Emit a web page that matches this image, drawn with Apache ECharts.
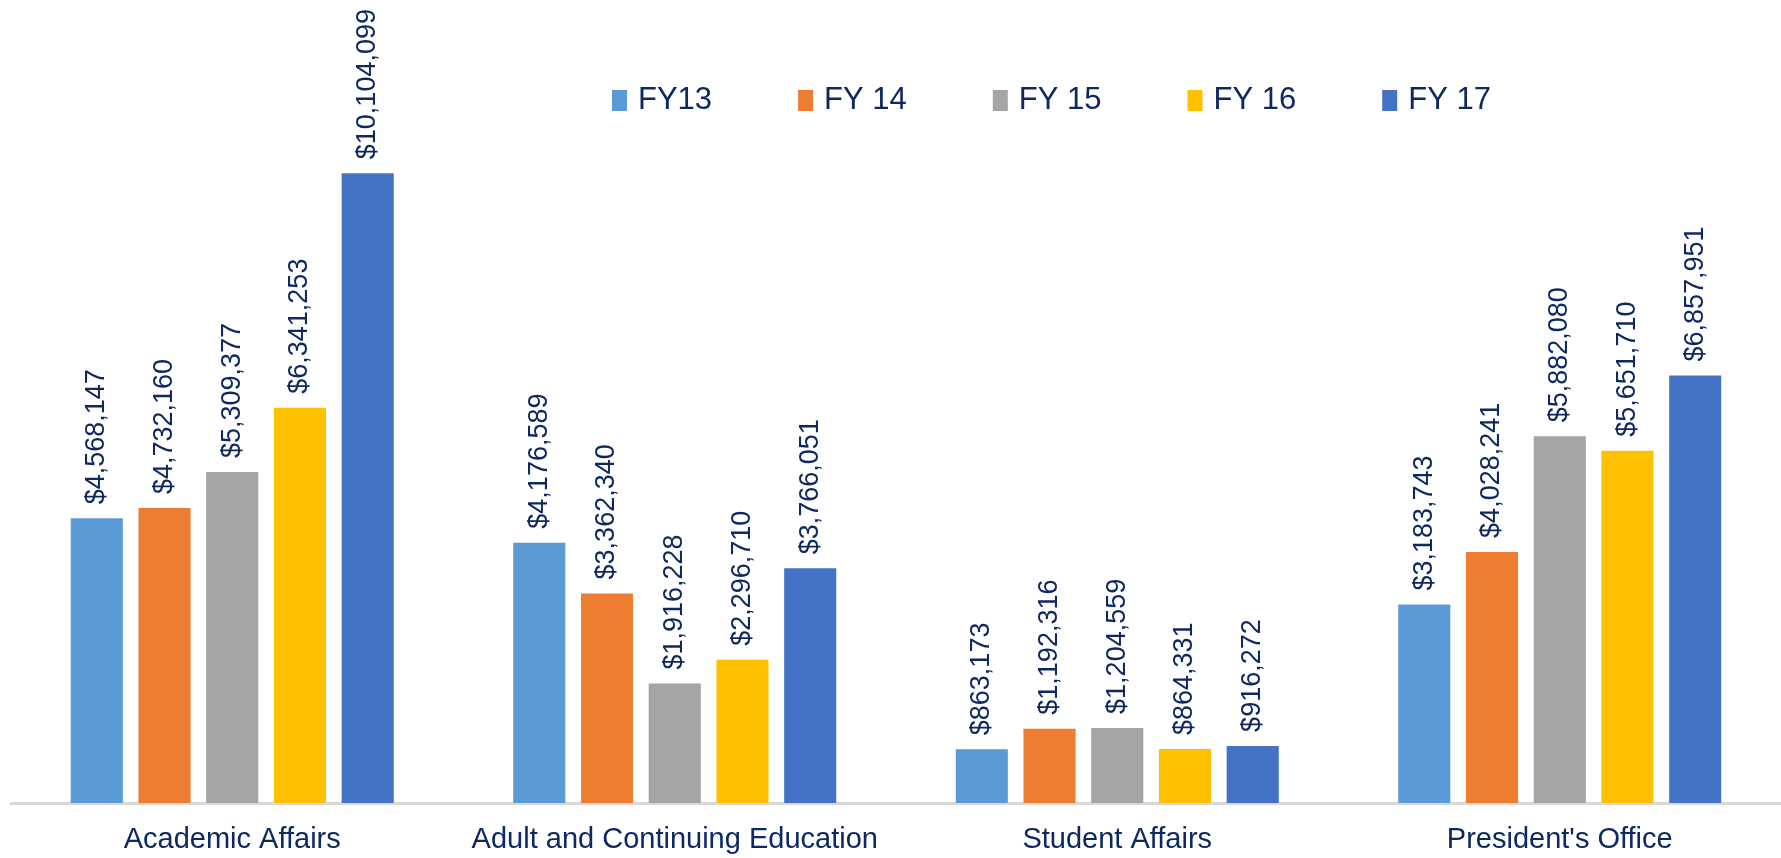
<!DOCTYPE html>
<html lang="en">
<head>
<meta charset="UTF-8">
<title></title>
<style>
    html, body { margin: 0; padding: 0; background: #fff; }
    #chart {
        width: 1781px;
        height: 858px;
    }
</style>
</head>
<body>
<div id="chart"></div>
<script src="https://cdn.jsdelivr.net/npm/echarts@6/dist/echarts.min.js"></script>
<script>
    var categories = ['Academic Affairs', 'Adult and Continuing Education', 'Student Affairs', "President's Office"];
    var years = ['FY13', 'FY 14', 'FY 15', 'FY 16', 'FY 17'];
    var fy13 = [4568147, 4176589, 863173, 3183743];
    var fy14 = [4732160, 3362340, 1192316, 4028241];
    var fy15 = [5309377, 1916228, 1204559, 5882080];
    var fy16 = [6341253, 2296710, 864331, 5651710];
    var fy17 = [10104099, 3766051, 916272, 6857951];

    var colors = ['#5B9BD5', '#ED7D31', '#A5A5A5', '#FFC000', '#4472C4'];
    var textColor = '#0E2862';
    var font = 'Liberation Sans, Arial, sans-serif';

    var myChart = echarts.init(document.getElementById('chart'));

    function makeSeries(name, data) {
        return {
            name: name,
            type: 'bar',
            data: data,
            barGap: '30%',
            barCategoryGap: '27%',
            label: {
                show: true,
                position: 'top',
                rotate: 90,
                align: 'left',
                verticalAlign: 'middle',
                distance: 14,
                color: textColor,
                fontFamily: font,
                fontSize: 27,
                formatter: function (p) {
                    return '$' + p.value.toLocaleString('en-US');
                }
            }
        };
    }

    var option = {
        animation: false,
        color: colors,
        legend: {
            data: years,
            left: 607,
            top: 80,
            itemWidth: 15,
            itemHeight: 21,
            itemGap: 86,
            icon: 'rect',
            textStyle: {
                color: textColor,
                fontFamily: font,
                fontSize: 31,
                padding: [0, 0, 0, 6]
            }
        },
        grid: {
            left: 11,
            right: 0,
            top: 55,
            bottom: 55
        },
        xAxis: {
            type: 'category',
            data: categories,
            axisTick: { show: false },
            axisLine: { lineStyle: { color: '#D9D9D9', width: 3 } },
            axisLabel: {
                interval: 0,
                color: textColor,
                fontFamily: font,
                fontSize: 29,
                margin: 22
            }
        },
        yAxis: {
            type: 'value',
            show: false,
            min: 0,
            max: 12000000,
            splitLine: { show: false }
        },
        series: [
            makeSeries(years[0], fy13),
            makeSeries(years[1], fy14),
            makeSeries(years[2], fy15),
            makeSeries(years[3], fy16),
            makeSeries(years[4], fy17)
        ]
    };

    myChart.setOption(option);
</script>
</body>
</html>
